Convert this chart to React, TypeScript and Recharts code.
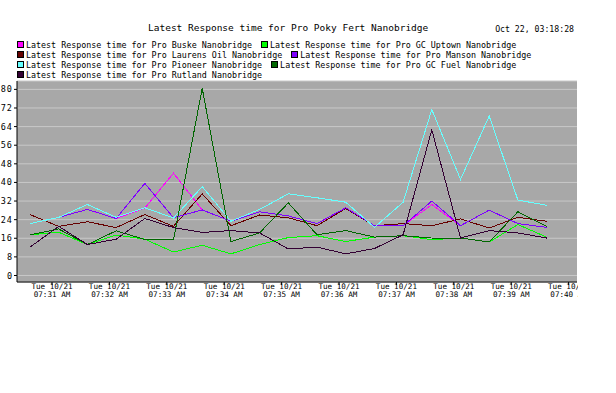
import React from 'react';
import { LineChart, Line, XAxis, YAxis, CartesianGrid } from 'recharts';

const sampleTimes = [
  '07:30:37', '07:31:07', '07:31:37', '07:32:07', '07:32:37', '07:33:07', '07:33:37',
  '07:34:07', '07:34:37', '07:35:07', '07:35:37', '07:36:07', '07:36:37', '07:37:07',
  '07:37:37', '07:38:07', '07:38:37', '07:39:07', '07:39:37',
];
const tickTimes = ['07:31', '07:32', '07:33', '07:34', '07:35', '07:36', '07:37', '07:38', '07:39', '07:40'];
const tickDateLabel = 'Tue 10/21';
const yTicks = [0, 8, 16, 24, 32, 40, 48, 56, 64, 72, 80];

const buske = [22.3, 25, 28.4, 24.5, 29, 44, 28.2, 23.3, 27.4, 25.6, 22.3, 29, 21.4, 21.4, 30.5, 21.4, 28.1, 22.3, 20.7];
const gcUptown = [17.5, 18.6, 13.3, 17.4, 15.6, 10.1, 13, 9.3, 13.3, 16.3, 17.1, 14.6, 16.5, 17.1, 15.4, 16.1, 14.4, 21.9, 16.5];
const laurensOil = [26.2, 21.1, 23.1, 20.6, 26.2, 21.1, 35.1, 21.4, 26, 24.8, 21.4, 28.8, 21.4, 22.3, 21.4, 24.3, 20.4, 25, 23.3];
const manson = [22.3, 25, 28.4, 24.5, 39.6, 24.8, 28.2, 23.3, 27.4, 25.6, 22.3, 29.1, 21.4, 21.4, 32, 21.4, 28.1, 22.3, 20.7];
const pioneer = [22.3, 25, 30.5, 25, 29.1, 24.7, 38.2, 23.3, 28.4, 35.1, 33.4, 31.5, 20.7, 31.5, 71.3, 41.3, 68.5, 32.4, 30.2];
const gcFuel = [17.5, 20, 13.3, 19.2, 15.5, 15.4, 80.5, 14.6, 18.3, 31.2, 17.5, 19.3, 16.5, 17.1, 16.1, 16.1, 14.4, 27.4, 21.1];
const rutland = [12.2, 21.1, 13.3, 15.6, 24.5, 20.6, 18.5, 19.3, 18.3, 11.4, 12.2, 9.3, 11.6, 17.5, 62.6, 16.1, 19.3, 18.3, 16.1];

const chartTitle = 'Latest Response time for Pro Poky Fert Nanobridge';
const stampText = 'Oct 22, 03:18:28';

const series = [
  { key: 'buske', name: 'Latest Response time for Pro Buske Nanobridge', values: buske, color: '#ff00ff' },
  { key: 'gcUptown', name: 'Latest Response time for Pro GC Uptown Nanobridge', values: gcUptown, color: '#00ff00' },
  { key: 'laurensOil', name: 'Latest Response time for Pro Laurens Oil Nanobridge', values: laurensOil, color: '#660000' },
  { key: 'manson', name: 'Latest Response time for Pro Manson Nanobridge', values: manson, color: '#7f00ff' },
  { key: 'pioneer', name: 'Latest Response time for Pro Pioneer Nanobridge', values: pioneer, color: '#66ffff' },
  { key: 'gcFuel', name: 'Latest Response time for Pro GC Fuel Nanobridge', values: gcFuel, color: '#006600' },
  { key: 'rutland', name: 'Latest Response time for Pro Rutland Nanobridge', values: rutland, color: '#330033' },
];
const legendRows = [[0, 1], [2, 3], [4, 5], [6]];

const toMin = (t: string) => {
  const p = t.split(':').map(Number);
  return p[0] * 60 + p[1] + (p[2] || 0) / 60 - (7 * 60 + 31);
};

const data = sampleTimes.map((t, i) => {
  const row: Record<string, number> = { t: toMin(t) };
  series.forEach((s) => {
    row[s.key] = s.values[i];
  });
  return row;
});
const xTicks = tickTimes.map((t) => toMin(t));

const FONT = '"DejaVu Sans Mono", monospace';

const XTick = (props: any) => {
  const { x, y, payload } = props;
  const idx = xTicks.findIndex((v) => Math.abs(v - payload.value) < 1e-6);
  const label = idx >= 0 ? `${tickTimes[idx]} AM` : '';
  return (
    <g>
      <text x={x} y={y + 4} textAnchor="middle" fontFamily={FONT} fontSize={7.6} fill="#000">
        {tickDateLabel}
      </text>
      <text x={x} y={y + 12} textAnchor="middle" fontFamily={FONT} fontSize={7.6} fill="#000">
        {label}
      </text>
    </g>
  );
};

export default function App() {
  return (
    <div style={{ position: 'absolute', left: 0, top: 0, width: 616, height: 393, background: '#fff', fontFamily: FONT }}>
      <div style={{ position: 'absolute', left: 148, top: 22, fontSize: 9.5, lineHeight: '12px', whiteSpace: 'pre', color: '#000' }}>
        {chartTitle}
      </div>
      <div style={{ position: 'absolute', right: 616 - 574, top: 24, fontSize: 8.2, lineHeight: '10px', whiteSpace: 'pre', color: '#000' }}>
        {stampText}
      </div>
      <div style={{ position: 'absolute', left: 17, top: 39.5 }}>
        {legendRows.map((r, ri) => (
          <div key={ri} style={{ display: 'flex', height: 10, alignItems: 'center' }}>
            {r.map((si) => (
              <div key={si} style={{ display: 'flex', alignItems: 'center', marginRight: 9 }}>
                <div style={{ width: 5, height: 5, border: '1px solid #000', background: series[si].color, marginRight: 2 }} />
                <span style={{ fontSize: 8.35, lineHeight: '10px', whiteSpace: 'pre', color: '#000' }}>{series[si].name}</span>
              </div>
            ))}
          </div>
        ))}
      </div>
      <div style={{ position: 'absolute', left: 0, top: 0 }}>
        <LineChart width={578} height={393} data={data} margin={{ top: 81, right: 1, bottom: 81, left: 0 }}>
          <CartesianGrid horizontal vertical={false} fill="#a8a8a8" stroke="#c8c8c8" strokeWidth={1} />
          <XAxis
            dataKey="t"
            type="number"
            domain={[-0.61, 9.146]}
            ticks={xTicks}
            allowDataOverflow
            height={30}
            tickSize={3}
            tickMargin={0}
            tick={<XTick />}
            axisLine={{ stroke: '#000' }}
            tickLine={{ stroke: '#000' }}
            interval={0}
          />
          <XAxis
            xAxisId="top"
            orientation="top"
            type="number"
            domain={[-0.61, 9.146]}
            height={0}
            tick={false}
            tickLine={false}
            axisLine={{ stroke: '#000' }}
          />
          <YAxis
            type="number"
            domain={[-2.8, 83.6]}
            ticks={yTicks}
            allowDataOverflow
            width={17}
            tickSize={3}
            tickMargin={1}
            interval={0}
            axisLine={{ stroke: '#000' }}
            tickLine={{ stroke: '#000' }}
            tick={{ fill: '#000', fontFamily: FONT, fontSize: 8.5, letterSpacing: 1 }}
          />
          <YAxis
            yAxisId="right"
            orientation="right"
            type="number"
            domain={[-2.8, 83.6]}
            ticks={yTicks}
            allowDataOverflow
            width={0}
            tickSize={3}
            tick={false}
            axisLine={{ stroke: '#000' }}
            tickLine={{ stroke: '#000' }}
          />
          {series.map((s) => (
            <Line
              key={s.key}
              dataKey={s.key}
              name={s.name}
              type="linear"
              stroke={s.color}
              strokeWidth={1}
              dot={false}
              activeDot={false}
              isAnimationActive={false}
              shapeRendering="crispEdges"
            />
          ))}
        </LineChart>
      </div>
    </div>
  );
}
